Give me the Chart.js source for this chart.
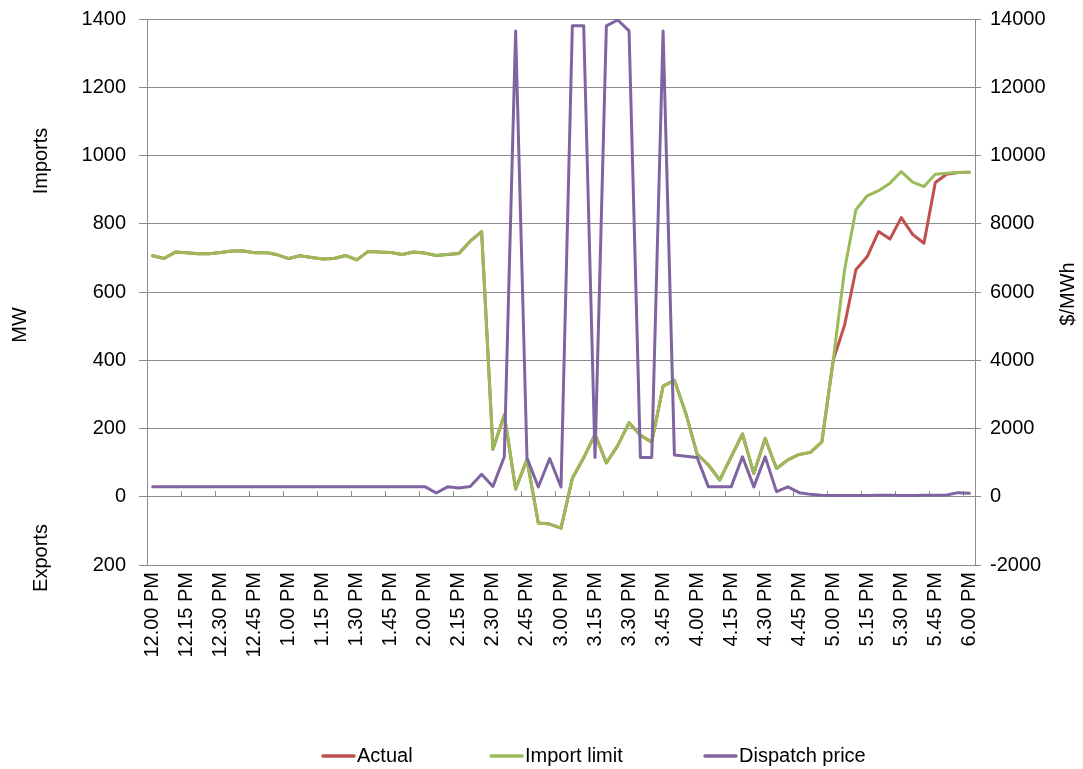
<!DOCTYPE html>
<html>
<head>
<meta charset="utf-8">
<script src="https://cdn.jsdelivr.net/npm/chart.js@4.4.0/dist/chart.umd.min.js"></script>
<style>
html,body{margin:0;padding:0;background:#ffffff;}
#wrap{width:1083px;height:769px;position:relative;}
</style>
</head>
<body>
<div id="wrap"><canvas id="c"></canvas></div>
<script>
// ---- Data ----
const categories = [
  "12.00 PM","12.05 PM","12.10 PM","12.15 PM","12.20 PM","12.25 PM","12.30 PM","12.35 PM","12.40 PM","12.45 PM","12.50 PM","12.55 PM",
  "1.00 PM","1.05 PM","1.10 PM","1.15 PM","1.20 PM","1.25 PM","1.30 PM","1.35 PM","1.40 PM","1.45 PM","1.50 PM","1.55 PM",
  "2.00 PM","2.05 PM","2.10 PM","2.15 PM","2.20 PM","2.25 PM","2.30 PM","2.35 PM","2.40 PM","2.45 PM","2.50 PM","2.55 PM",
  "3.00 PM","3.05 PM","3.10 PM","3.15 PM","3.20 PM","3.25 PM","3.30 PM","3.35 PM","3.40 PM","3.45 PM","3.50 PM","3.55 PM",
  "4.00 PM","4.05 PM","4.10 PM","4.15 PM","4.20 PM","4.25 PM","4.30 PM","4.35 PM","4.40 PM","4.45 PM","4.50 PM","4.55 PM",
  "5.00 PM","5.05 PM","5.10 PM","5.15 PM","5.20 PM","5.25 PM","5.30 PM","5.35 PM","5.40 PM","5.45 PM","5.50 PM","5.55 PM",
  "6.00 PM"
];

const actualMW = [
  706, 698, 717, 715, 712, 712, 716, 720, 720, 715,
  716, 709, 698, 706, 701, 697, 698, 707, 694, 719,
  717, 716, 710, 717, 714, 707, 710, 713, 749, 777,
  139, 240, 23, 109, -77, -80, -92, 54, 114, 183,
  99, 150, 217, 180, 160, 324, 341, 245, 125, 93,
  49, 117, 184, 68, 171, 83, 108, 124, 130, 161,
  400, 503, 665, 704, 777, 755, 818, 769, 743, 921,
  945, 950, 951
];

const importLimitMW = [
  706, 698, 717, 715, 712, 712, 716, 720, 720, 715,
  716, 709, 698, 706, 701, 697, 698, 707, 694, 719,
  717, 716, 710, 717, 714, 707, 710, 713, 749, 777,
  139, 240, 23, 109, -77, -80, -92, 54, 114, 183,
  99, 150, 217, 180, 160, 324, 341, 245, 125, 93,
  49, 117, 184, 68, 171, 83, 108, 124, 130, 161,
  400, 665, 841, 882, 897, 919, 953, 922, 909, 945,
  948, 950, 951
];

const dispatchPrice = [
  290, 290, 290, 290, 290, 292, 295, 295, 295, 295,
  292, 292, 290, 290, 290, 290, 290, 290, 290, 290,
  290, 290, 292, 295, 295, 110, 290, 255, 300, 660,
  300, 1170, 13650, 1140, 285, 1120, 285, 13800, 13800, 1150,
  13800, 13970, 13650, 1150, 1150, 13650, 1220, 1190, 1150, 290,
  290, 290, 1170, 290, 1170, 150, 290, 120, 70, 45,
  35, 35, 40, 40, 45, 45, 40, 40, 45, 45,
  50, 120, 100
];

const seriesNames = ["Actual", "Import limit", "Dispatch price"];
const seriesColors = ["#C0504D", "#9BBB59", "#8064A2"];

const mwAxis = { min: -200, max: 1400, step: 200 };
const priceAxis = { min: -2000, max: 14000, step: 2000 };

// ---- Styling ----
const FONT = "'Liberation Sans', Arial, Helvetica, sans-serif";
const GRID = "#8c8c8c";
Chart.defaults.font.family = FONT;
Chart.defaults.font.size = 20;
Chart.defaults.color = "#000000";

const annotations = {
  id: "annotations",
  afterDraw(chart) {
    const ctx = chart.ctx;
    ctx.save();
    ctx.fillStyle = "#000";
    ctx.font = "20px " + FONT;
    ctx.textAlign = "center";
    ctx.textBaseline = "middle";
    const vtext = (t, x, y) => {
      ctx.save();
      ctx.translate(x, y);
      ctx.rotate(-Math.PI / 2);
      ctx.fillText(t, 0, 0);
      ctx.restore();
    };
    vtext("Imports", 41, 161);
    vtext("MW", 20, 325);
    vtext("Exports", 41, 558);
    vtext("$/MWh", 1068, 294);

    // legend
    const lx = [322, 490, 704];
    ctx.textAlign = "left";
    for (let i = 0; i < seriesNames.length; i++) {
      ctx.strokeStyle = seriesColors[i];
      ctx.lineWidth = 3.5;
      ctx.lineCap = "round";
      ctx.beginPath();
      ctx.moveTo(lx[i] + 1, 756);
      ctx.lineTo(lx[i] + 32, 756);
      ctx.stroke();
      ctx.fillText(seriesNames[i], lx[i] + 35, 756);
    }
    ctx.restore();
  }
};

const lineDs = (label, data, color, axis, order) => ({
  label, data, borderColor: color, backgroundColor: color,
  yAxisID: axis, xAxisID: "x", order,
  borderWidth: 3, pointRadius: 0, pointHoverRadius: 0, tension: 0,
  borderJoinStyle: "round", borderCapStyle: "round", fill: false
});

new Chart(document.getElementById("c"), {
  type: "line",
  data: {
    labels: categories,
    datasets: [
      lineDs(seriesNames[0], actualMW, seriesColors[0], "y", 2),
      lineDs(seriesNames[1], importLimitMW, seriesColors[1], "y", 1),
      lineDs(seriesNames[2], dispatchPrice, seriesColors[2], "y1", 0)
    ]
  },
  options: {
    responsive: true,
    maintainAspectRatio: false,
    animation: false,
    layout: { padding: { left: 0, right: 0, top: 19, bottom: 0 } },
    plugins: { legend: { display: false }, tooltip: { enabled: false } },
    scales: {
      x: {
        type: "category",
        position: "bottom",
        offset: true,
        grid: { display: false, drawTicks: false, offset: true },
        border: { display: false },
        ticks: {
          autoSkip: false, minRotation: 90, maxRotation: 90, padding: 7,
          font: { size: 20 },
          callback: function (v, i) { return i % 3 === 0 ? categories[i] : ""; }
        },
        afterFit(scale) { scale.height = 204; scale.paddingLeft = 0; scale.paddingRight = 0; }
      },
      x2: {
        type: "category",
        position: { y: 0 },
        offset: true,
        grid: {
          offset: true, drawOnChartArea: false, drawTicks: true, tickLength: -6,
          color: (c) => (c.index % 3 === 0 ? GRID : "rgba(0,0,0,0)"), lineWidth: 1
        },
        border: { display: true, color: GRID, width: 1 },
        ticks: { display: false }
      },
      y: {
        position: "left",
        min: mwAxis.min, max: mwAxis.max,
        ticks: {
          stepSize: mwAxis.step, padding: 13, font: { size: 20 },
          callback: (v) => String(Math.abs(v))
        },
        grid: { color: GRID, lineWidth: 1, tickLength: 8, drawTicks: true },
        border: { display: true, color: GRID, width: 1 },
        afterFit(scale) { scale.width = 147; scale.paddingTop = 0; scale.paddingBottom = 0; }
      },
      y1: {
        position: "right",
        min: priceAxis.min, max: priceAxis.max,
        ticks: { stepSize: priceAxis.step, padding: 9, font: { size: 20 }, callback: (v) => String(v) },
        grid: { drawOnChartArea: false, color: GRID, tickLength: 6 },
        border: { display: true, color: GRID, width: 1 },
        afterFit(scale) { scale.width = 108; scale.paddingTop = 0; scale.paddingBottom = 0; }
      }
    }
  },
  plugins: [annotations]
});
</script>
</body>
</html>
